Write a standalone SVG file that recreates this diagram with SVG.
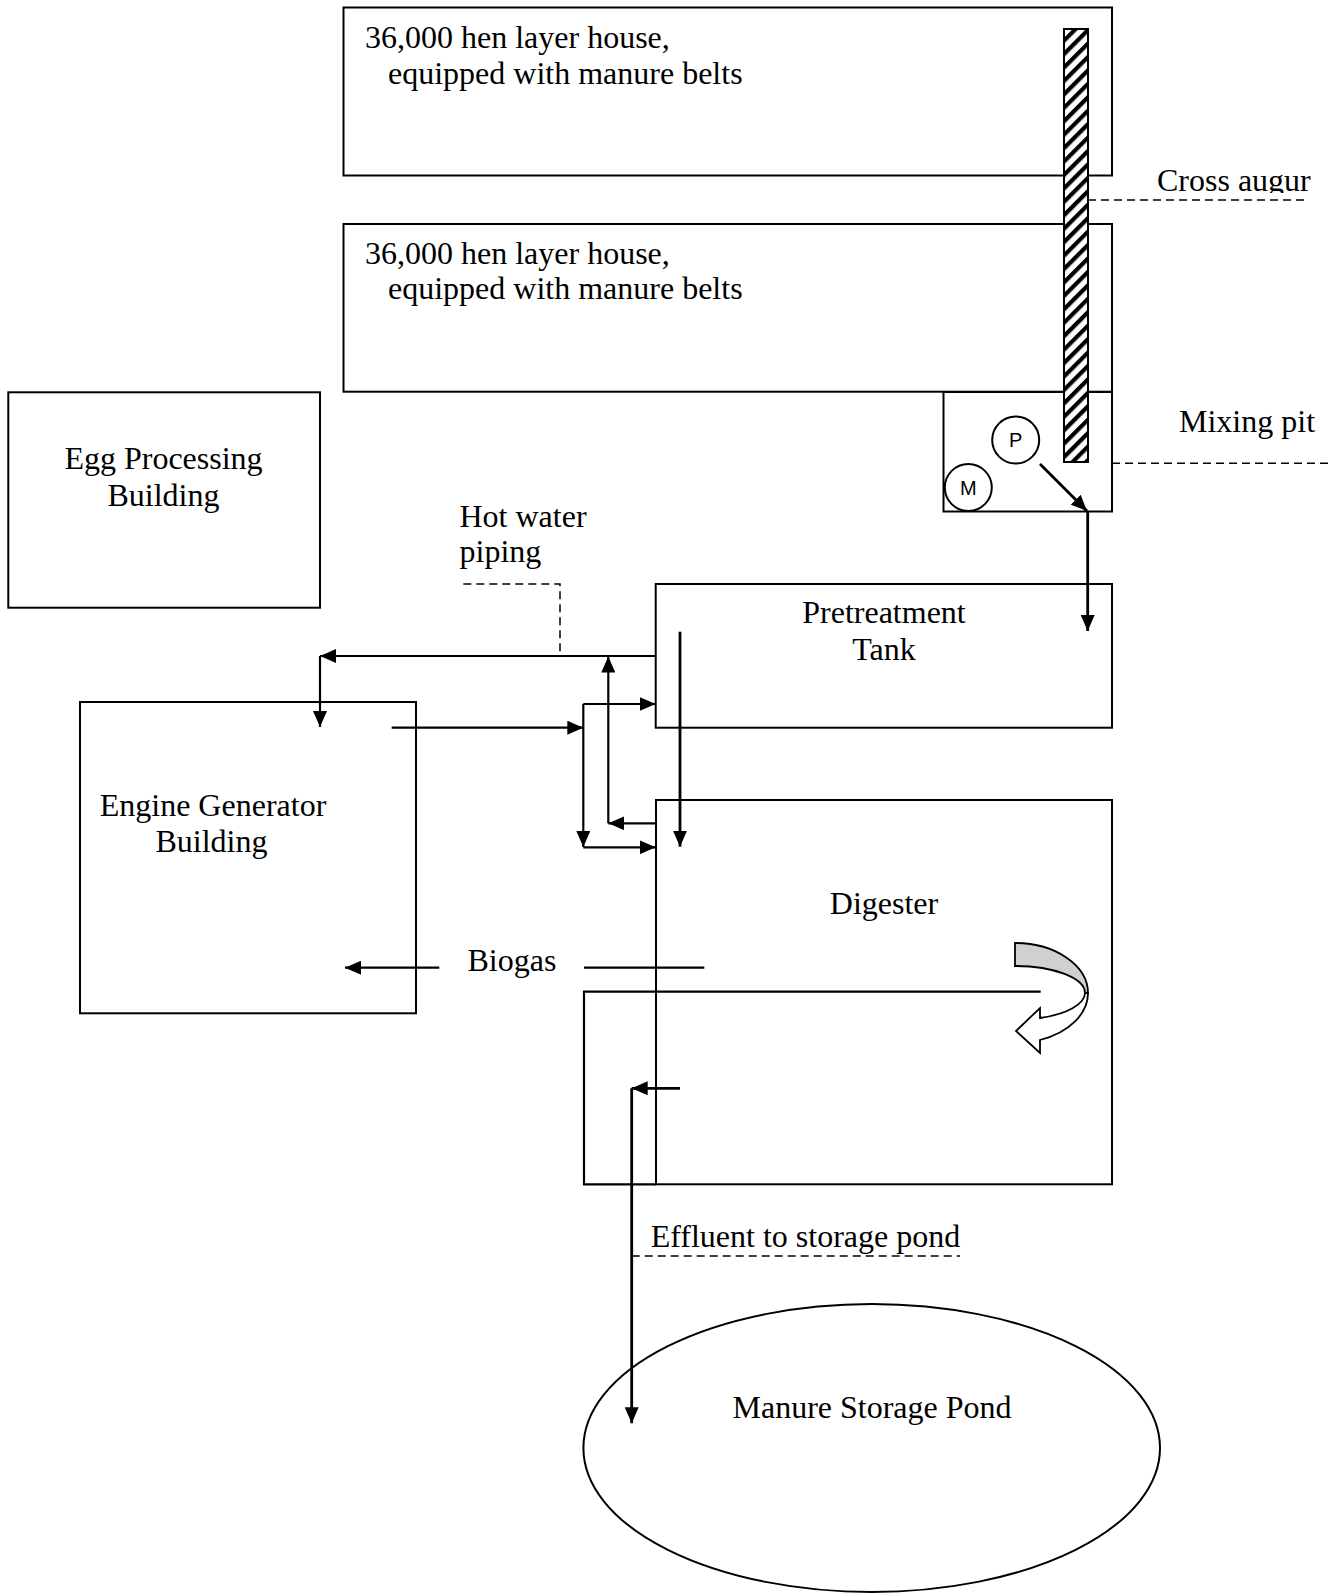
<svg xmlns="http://www.w3.org/2000/svg" width="1342" height="1594" viewBox="0 0 1342 1594">
<style>
.box{fill:#fff;stroke:#000;stroke-width:2}
.ln{fill:none;stroke:#000;stroke-width:2.2}
.thick{fill:none;stroke:#000;stroke-width:2.8}
.dash{fill:none;stroke:#000;stroke-width:1.5;stroke-dasharray:8 5}
.t{font-family:"Liberation Serif","Times New Roman",serif;font-size:32px;fill:#000}
.tc{font-family:"Liberation Serif","Times New Roman",serif;font-size:32px;fill:#000;text-anchor:middle}
.s{font-family:"Liberation Sans",Arial,sans-serif;font-size:20px;fill:#000;text-anchor:middle}
</style>
<defs>
<marker id="ah" markerUnits="userSpaceOnUse" markerWidth="17" markerHeight="14" refX="16" refY="7" orient="auto">
<path d="M0,0 L16,7 L0,14 Z" fill="#000"/>
</marker>
<pattern id="hatch" patternUnits="userSpaceOnUse" width="9.5" height="9.5" patternTransform="rotate(45)">
<rect width="9.5" height="9.5" fill="#fff"/>
<rect width="4.2" height="9.5" fill="#000"/>
</pattern>
<clipPath id="clipAug"><rect x="1130" y="150" width="212" height="43"/></clipPath>
</defs>

<g id="house1">
<rect class="box" x="343.5" y="7.5" width="768.5" height="168"/>
<text class="t" x="365" y="48">36,000 hen layer house,</text>
<text class="t" x="388" y="84">equipped with manure belts</text>
</g>
<g id="house2">
<rect class="box" x="343.5" y="224" width="768.5" height="167.7"/>
<text class="t" x="365" y="263.5">36,000 hen layer house,</text>
<text class="t" x="388" y="299">equipped with manure belts</text>
</g>
<g id="mixing-pit">
<rect class="box" x="943.5" y="392" width="168.5" height="119.5"/>
<circle class="box" cx="1015.7" cy="440" r="23.5" stroke-width="1.5"/>
<text class="s" x="1015.7" y="447">P</text>
<circle class="box" cx="968.3" cy="487.5" r="23.5" stroke-width="1.5"/>
<text class="s" x="968.3" y="494.5">M</text>
</g>
<g id="cross-augur">
<rect x="1064" y="29" width="24" height="433" fill="url(#hatch)" stroke="#000" stroke-width="2"/>
</g>
<g id="egg-processing">
<rect class="box" x="8.3" y="392.3" width="311.7" height="215.4"/>
<text class="tc" x="163.5" y="469">Egg Processing</text>
<text class="tc" x="163.5" y="506">Building</text>
</g>
<g id="pretreatment">
<rect class="box" x="655.7" y="584" width="456.3" height="143.7"/>
<text class="tc" x="884" y="623">Pretreatment</text>
<text class="tc" x="884" y="660">Tank</text>
</g>
<g id="engine-generator">
<rect class="box" x="80" y="702" width="336" height="311.3"/>
<text class="tc" x="213" y="815.5">Engine Generator</text>
<text class="tc" x="211.5" y="852">Building</text>
</g>
<g id="digester">
<rect class="box" x="656" y="800" width="456" height="384.3"/>
<path class="ln" stroke-width="2" d="M1040.7,991.7 H584 V1184.3 H656"/>
<text class="tc" x="884" y="914">Digester</text>
<path d="M1015,943 A73,50 0 0 1 1088,993 L1085,993 A70,27 0 0 0 1015,966 Z" fill="#d0d0d0" stroke="#000" stroke-width="1.8"/>
<path d="M1088,993 A73,50 0 0 1 1040,1040 L1040,1053 L1016,1031 L1040,1008 L1040,1018 A70,27 0 0 0 1085,993 Z" fill="#fff" stroke="#000" stroke-width="1.8"/>
</g>
<g id="pond">
<ellipse class="box" cx="871.7" cy="1448" rx="288.3" ry="144" stroke-width="1.8"/>
<text class="tc" x="872" y="1418">Manure Storage Pond</text>
</g>

<g id="labels">
<text class="t" x="1157" y="191" clip-path="url(#clipAug)">Cross augur</text>
<text class="t" x="1179" y="431.5">Mixing pit</text>
<text class="t" x="459.5" y="526.5">Hot water</text>
<text class="t" x="459.5" y="562">piping</text>
<text class="t" x="467.5" y="971">Biogas</text>
<text class="t" x="650.7" y="1246.5">Effluent to storage pond</text>
</g>

<g id="connectors">
<path class="dash" d="M1088,200 H1305"/>
<path class="dash" d="M1112,463.3 H1330"/>
<path class="dash" d="M463.3,584 H560 V655"/>
<path class="dash" d="M631.7,1256 H960"/>
<path class="thick" d="M1040,464 L1087,511" marker-end="url(#ah)"/>
<path class="thick" d="M1087.7,511 V631" marker-end="url(#ah)"/>
<path class="ln" d="M655.7,656 H320" marker-end="url(#ah)"/>
<path class="ln" d="M320,656 V727" marker-end="url(#ah)"/>
<path class="ln" d="M391.7,727.7 H583.3" marker-end="url(#ah)"/>
<path class="ln" d="M583.3,704 H655.7" marker-end="url(#ah)"/>
<path class="ln" d="M583.3,704 V847" marker-end="url(#ah)"/>
<path class="ln" d="M583.3,847.3 H655.7" marker-end="url(#ah)"/>
<path class="ln" d="M655.7,823.3 H608.3" marker-end="url(#ah)"/>
<path class="ln" d="M608.3,823.3 V656.5" marker-end="url(#ah)"/>
<path class="thick" d="M680,631.7 V846.7" marker-end="url(#ah)"/>
<path class="ln" d="M584,967.7 H704.3"/>
<path class="ln" d="M439.3,967.7 H345" marker-end="url(#ah)"/>
<path class="thick" d="M680,1088.3 H631.7" marker-end="url(#ah)"/>
<path class="thick" d="M631.7,1088.3 V1423.3" marker-end="url(#ah)"/>
</g>
</svg>
